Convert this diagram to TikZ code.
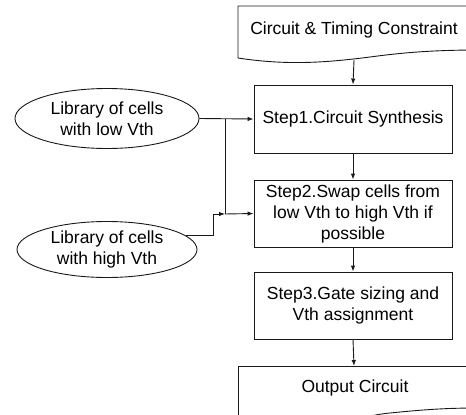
\documentclass[tikz,border=0pt]{standalone}
\usepackage{fontspec}
\setmainfont{Liberation Sans}
\usetikzlibrary{shapes.geometric,arrows.meta,calc}
\begin{document}
\begin{tikzpicture}[x=1pt,y=-1pt,
  font=\fontsize{17.5}{21}\selectfont,
  line width=0.9pt,
  stepbox/.style={draw=black!90, rectangle, minimum width=198pt, align=center, inner sep=0pt},
  libnode/.style={draw=black!90, ellipse, align=center, inner sep=0pt},
  wire/.style={draw=black!90},
  tip/.style={wire, -{Latex[length=6pt,width=4.5pt]}}]
\useasboundingbox (0,0) rectangle (466,415);

% document-shaped boxes at top and bottom, running off the page edges
\begin{scope}
  \clip (0,0) rectangle (466,415);
  \draw[wire] (238,58) -- (238,6) -- (480,6) -- (480,50)
        .. controls (430,50) and (400,53) .. (370,57)
        .. controls (330,62) and (290,66) .. (238,58);
  \draw[wire] (480,366) -- (238,366) -- (238,432);
  \draw[wire] (238,432) .. controls (300,446) and (345,417) .. (390,413)
        .. controls (430,409) and (450,408) .. (480,408);
\end{scope}
\node (top) at (354,30) {Circuit \& Timing Constraint};
\coordinate (topb) at (354,60);
\node (out) at (355,388) {Output Circuit};
\coordinate (outt) at (354,366);

% process steps
\node[stepbox, minimum height=68pt] (s1) at (353,119) {Step1.Circuit Synthesis};
\node[stepbox, minimum height=67pt] (s2) at (353,213.5) {Step2.Swap cells from\\low Vth to high Vth if\\possible};
\node[stepbox, minimum height=67pt] (s3) at (353,305.5) {Step3.Gate sizing and\\Vth assignment};

% cell libraries
\node[libnode, minimum width=184pt, minimum height=60pt] (e1) at (107,118.5) {Library of cells\\with low Vth};
\node[libnode, minimum width=180pt, minimum height=56pt] (e2) at (107,249.5) {Library of cells\\with high Vth};

% main flow
\draw[tip] (topb) -- (s1.north);
\draw[tip] (s1.south) -- (s2.north);
\draw[tip] (s2.south) -- (s3.north);
\draw[tip] (s3.south) -- (outt);

% library inputs
\coordinate (j) at (225,214);
\coordinate (k) at (213,214);
\draw[tip] (e1.east) -- (s1.west);
\draw[wire] (j |- e1.east) -- (j);
\draw[tip] (e2.10) -- (e2.10 -| k) -- (k) -- (j);
\draw[tip] (j) -- (s2.west);
\end{tikzpicture}
\end{document}
